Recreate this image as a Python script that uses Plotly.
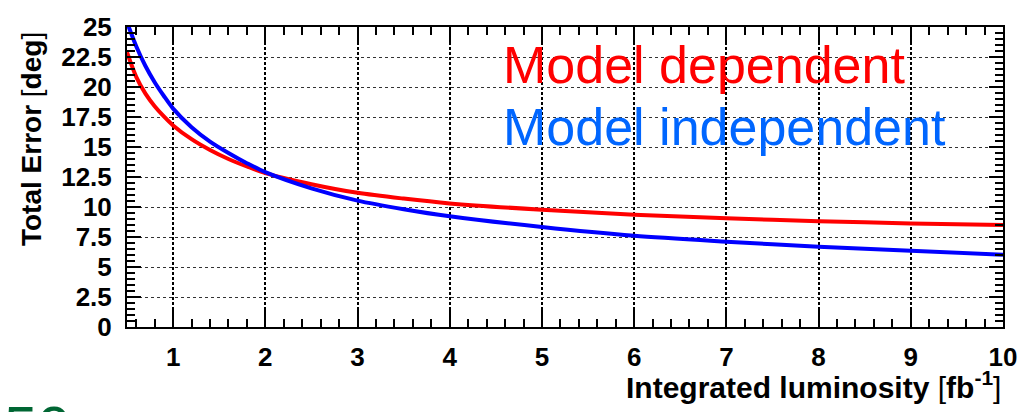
import plotly.graph_objects as go

# Integrated luminosity [fb^-1] and total error [deg] for both fit approaches
lumi = [0.5, 0.6, 0.7, 0.8, 0.9, 1.0, 1.2, 1.4, 1.6, 1.8, 2.0, 2.5, 3.0, 3.5, 4.0,
        5.0, 6.0, 7.0, 8.0, 9.0, 10.0]
err_model_dep = [22.9, 20.85, 19.45, 18.4, 17.55, 16.8, 15.65, 14.75, 14.0, 13.38, 12.82,
                 11.9, 11.18, 10.7, 10.3, 9.77, 9.36, 9.06, 8.82, 8.63, 8.49]
err_model_indep = [25.4, 23.4, 21.75, 20.4, 19.25, 18.2, 16.65, 15.45, 14.5, 13.65, 12.9,
                   11.55, 10.53, 9.82, 9.23, 8.33, 7.60, 7.11, 6.68, 6.36, 6.03]

x_ticks = [1, 2, 3, 4, 5, 6, 7, 8, 9, 10]
y_ticks = [0, 2.5, 5, 7.5, 10, 12.5, 15, 17.5, 20, 22.5, 25]
y_tick_text = ["0", "2.5", "5", "7.5", "10", "12.5", "15", "17.5", "20", "22.5", "25"]

FONT = "Liberation Sans, Arial, Helvetica, sans-serif"
RED = "#ff0000"
BLUE = "#0000ff"
LABEL_BLUE = "#0066ff"

fig = go.Figure()
fig.add_trace(go.Scatter(x=lumi, y=err_model_dep, mode="lines",
                         line=dict(color=RED, width=4, shape="spline", smoothing=0.8),
                         showlegend=False))
fig.add_trace(go.Scatter(x=lumi, y=err_model_indep, mode="lines",
                         line=dict(color=BLUE, width=4, shape="spline", smoothing=0.8),
                         showlegend=False))

W, H = 1036, 412
L, R, T, B = 127, 33, 19, 85

fig.update_layout(
    width=W, height=H,
    margin=dict(l=L, r=R, t=T, b=B),
    paper_bgcolor="white", plot_bgcolor="white",
    font=dict(family=FONT, color="black"),
    xaxis=dict(
        range=[0.5, 10], tickmode="array", tickvals=x_ticks,
        ticktext=[str(v) for v in x_ticks],
        ticks="inside", ticklen=18, tickwidth=2, tickcolor="black",
        minor=dict(dtick=0.2, tick0=0, ticks="inside", ticklen=8, tickwidth=2,
                   tickcolor="black", showgrid=False),
        showline=True, linewidth=2, linecolor="black", mirror="allticks",
        showgrid=True, gridcolor="black", gridwidth=2, griddash="3px,2px",
        zeroline=False,
        tickfont=dict(family=FONT, size=26, weight="bold", color="black"),
        ticklabelstandoff=6,
    ),
    yaxis=dict(
        range=[0, 25], tickmode="array", tickvals=y_ticks, ticktext=y_tick_text,
        ticks="inside", ticklen=14, tickwidth=2, tickcolor="black",
        minor=dict(dtick=0.5, tick0=0, ticks="inside", ticklen=8, tickwidth=2,
                   tickcolor="black", showgrid=False),
        showline=True, linewidth=2, linecolor="black", mirror="allticks",
        showgrid=True, gridcolor="#333333", gridwidth=1, griddash="3px,3px",
        zeroline=False,
        tickfont=dict(family=FONT, size=26, weight="bold", color="black"),
        ticklabelstandoff=8,
    ),
)

pw = W - L - R
ph = H - T - B

def px_x(p):
    return (p - L) / pw

def px_y(p):
    return (H - B - p) / ph

annotations = [
    # axis titles
    dict(text="<b>Integrated luminosity </b>[<b>fb<sup>-1</sup></b>]",
         xref="paper", yref="paper", x=1.0, y=px_y(387), xanchor="right", yanchor="middle",
         showarrow=False, font=dict(family=FONT, size=30, color="black")),
    dict(text="<b>Total Error </b>[<b>deg</b>]",
         xref="paper", yref="paper", x=px_x(31), y=px_y(134), xanchor="center", yanchor="middle",
         textangle=-90, showarrow=False, font=dict(family=FONT, size=28, color="black")),
    # curve labels
    dict(text="Model dependent", xref="paper", yref="paper",
         x=px_x(501), y=px_y(58), xanchor="left", yanchor="middle",
         showarrow=False, font=dict(family=FONT, size=52, color=RED)),
    dict(text="Model independent", xref="paper", yref="paper",
         x=px_x(501), y=px_y(122), xanchor="left", yanchor="middle",
         showarrow=False, font=dict(family=FONT, size=52, color=LABEL_BLUE)),
    # caption running off the bottom edge
    dict(text="50 e", xref="paper", yref="paper",
         x=px_x(2), y=px_y(394), xanchor="left", yanchor="top",
         showarrow=False, font=dict(family=FONT, size=60, color="#006633")),
]
fig.update_layout(annotations=annotations)

fig.write_html("out.html")
